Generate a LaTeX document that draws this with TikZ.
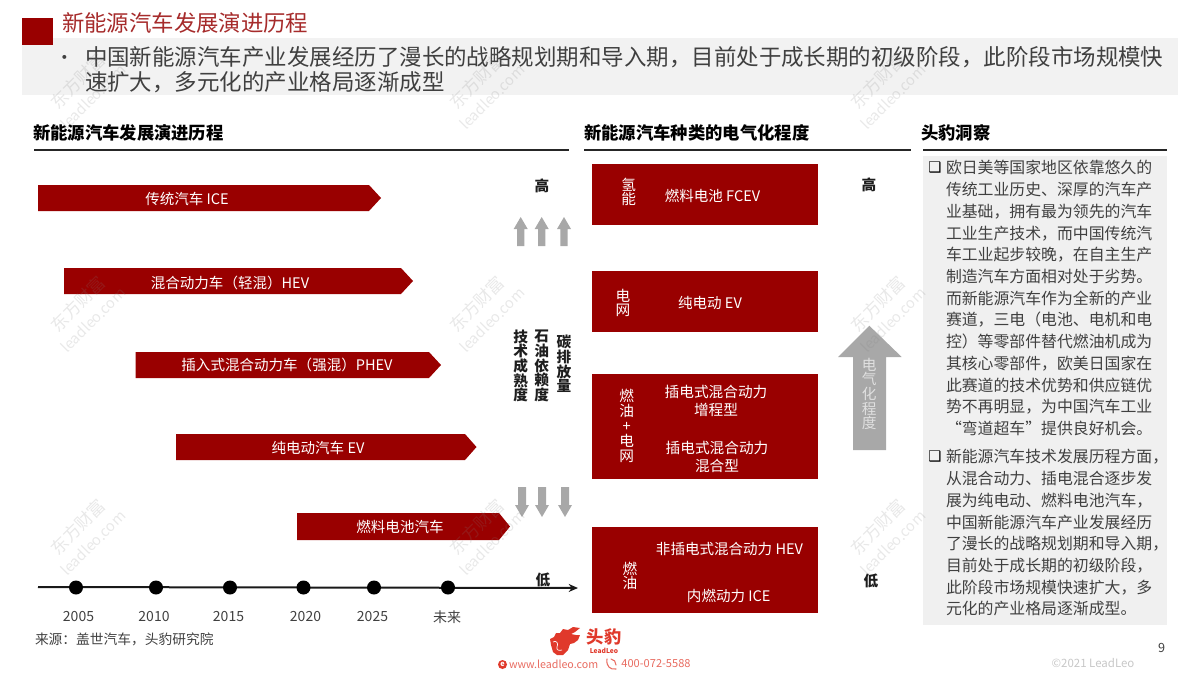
\documentclass[tikz,border=0pt]{standalone}
\usepackage{fontspec}
\setmainfont{Noto Sans CJK SC}
\newfontfamily\dejavu{DejaVu Sans}
\usetikzlibrary{arrows.meta}
\definecolor{brandred}{HTML}{990000}
\definecolor{titlered}{HTML}{A62B2B}
\definecolor{inktext}{HTML}{1E1E1E}
\definecolor{bodytext}{HTML}{404040}
\definecolor{panelgray}{HTML}{F0F0F0}
\definecolor{arrowgray}{HTML}{A8A8A8}
\definecolor{logored}{HTML}{E0392B}
\newcommand{\fsz}[2]{\fontsize{#1}{#2}\selectfont}
\newcommand{\ribbon}[5]{% x0, tipstart, x1, ytop, ybot
  \fill[brandred] (#1,#4) -- (#2,#4) -- (#3,{(#4+#5)/2}) -- (#2,#5) -- (#1,#5) -- cycle;}
\newcommand{\watermark}[2]{%
  \begin{scope}[shift={(#1,#2)}]
    \node[wmark,font=\fsz{13}{13}] (wm#1a#2) at (0,0) {东方财富};
    \node[wmark,font=\fsz{11}{11}] (wm#1b#2) at (15,16) {leadleo.com};
  \end{scope}}
\tikzset{
  txt/.style={inner sep=0pt,outer sep=0pt},
  wmark/.style={txt,rotate=45,text=gray,opacity=.18},
  whitetxt/.style={txt,text=white,font=\fsz{10.9}{14}},
  vert/.style={txt,align=center,font=\fsz{11}{11}},
  headtxt/.style={txt,anchor=west,text=black,font=\fsz{13}{15}\bfseries},
  headline/.style={line width=1pt,black!85},
  ptxt/.style={txt,anchor=north west,align=left,text=bodytext,font=\fsz{11.9}{16.28}},
  bul/.style={txt,text=black,font=\fsz{11}{11}\dejavu},
  redbox/.style={fill=brandred,draw=none},
  thinup/.style={fill=arrowgray,draw=none},
  yearlbl/.style={txt,text=bodytext,font=\fsz{10.5}{12}},
  lvl/.style={txt,text=inktext,font=\fsz{11}{12}\bfseries},
}
\begin{document}
\begin{tikzpicture}[x=0.75pt,y=-0.75pt]
\useasboundingbox (0,0) rectangle (1200,675);
% header
\fill[panelgray!85!white] (22,38) rectangle (1178,95);
\fill[brandred] (22,18) rectangle (53,45);
\node[txt,anchor=west,text=titlered,font=\fsz{16.8}{18}] (title) at (62,23) {新能源汽车发展演进历程};
\node[txt,text=bodytext,font=\fsz{14}{14}] (dotb) at (65,60) {•};
\node[txt,anchor=west,text=bodytext,font=\fsz{16.85}{18}] (l1) at (85,57) {中国新能源汽车产业发展经历了漫长的战略规划期和导入期，目前处于成长期的初级阶段，此阶段市场规模快};
\node[txt,anchor=west,text=bodytext,font=\fsz{16.85}{18}] (l2) at (85,82) {速扩大，多元化的产业格局逐渐成型};
% section heads
\node[headtxt] (h1) at (33,133) {新能源汽车发展演进历程};
\node[headtxt] (h2) at (584,133) {新能源汽车种类的电气化程度};
\node[headtxt] (h3) at (921,133) {头豹洞察};
\draw[headline] (34,150) -- (569,150);
\draw[headline] (584,150) -- (911,150);
\draw[headline] (923,150) -- (1167,150);
% ribbons
\ribbon{38}{369}{381}{185}{211}
\ribbon{64}{401}{413}{268}{294}
\ribbon{135.5}{429}{441}{352}{378}
\ribbon{176}{465}{476.5}{434}{460}
\ribbon{297}{499}{510}{513}{540}
\node[whitetxt] (r1) at (187,199) {传统汽车 ICE};
\node[whitetxt] (r2) at (230,283) {混合动力车（轻混）HEV};
\node[whitetxt] (r3) at (287,365) {插入式混合动力车（强混）PHEV};
\node[whitetxt] (r4) at (318,448) {纯电动汽车 EV};
\node[whitetxt] (r5) at (400,527) {燃料电池汽车};
% timeline
\coordinate (ts) at (38,587);
\coordinate (te) at (578,588);
\draw[line width=1.5pt,black!90,-{Stealth[length=7pt,width=6pt]}] (ts) -- (te);
\foreach \n/\x/\lx/\lab in {a/76/78.5/2005,b/156/154/2010,c/230/228.5/2015,d/303.5/305.5/2020,e/374/372.5/2025,f/448/447/未来}{
  \fill[black] (\x,587.5) circle (7);
  \node[yearlbl] (y\n) at (\lx,617) {\lab};
}
\node[txt,anchor=west,text=bodytext,font=\fsz{10.3}{12}] (src) at (35,639) {来源：盖世汽车，头豹研究院};
% levels
\node[lvl] (hi1) at (542,186) {高};
\node[lvl] (lo1) at (543,580) {低};
\node[lvl] (hi2) at (869,185) {高};
\node[lvl] (lo2) at (871,580.5) {低};
% small arrows
\foreach \x in {520.7,541.7,564}{
  \fill[thinup] (\x,217) -- (\x+7,229) -- (\x+3.7,229) -- (\x+3.7,246) -- (\x-3.7,246) -- (\x-3.7,229) -- (\x-7,229) -- cycle;
}
\foreach \x in {522,542,565}{
  \fill[thinup] (\x,517) -- (\x+7,505) -- (\x+4,505) -- (\x+4,487) -- (\x-4,487) -- (\x-4,505) -- (\x-7,505) -- cycle;
}
\node[vert,text=inktext,font=\fsz{11}{11}\bfseries] (v1) at (520.7,366) {技\\术\\成\\熟\\度};
\node[vert,text=inktext,font=\fsz{11}{11}\bfseries] (v2) at (541.7,366) {石\\油\\依\\赖\\度};
\node[vert,text=inktext,font=\fsz{11}{11}\bfseries] (v3) at (564,364) {碳\\排\\放\\量};
% boxes
\fill[redbox] (592.3,164) rectangle (817.7,225);
\fill[redbox] (592.3,270.7) rectangle (817.7,331.7);
\fill[redbox] (592.3,374) rectangle (817.7,479);
\fill[redbox] (592.3,527) rectangle (817.7,613);
\node[vert,text=white] (b1a) at (628.7,192) {氢\\能};
\node[whitetxt] (b1b) at (712.5,196) {燃料电池 FCEV};
\node[vert,text=white] (b2a) at (623,303) {电\\网};
\node[whitetxt] (b2b) at (710,302.7) {纯电动 EV};
\node[vert,text=white,font=\fsz{11}{11.2}] (b3a) at (626.7,426) {燃\\油\\+\\电\\网};
\node[whitetxt,align=center,font=\fsz{11}{13.7}] (b3b) at (716,401) {插电式混合动力\\增程型};
\node[whitetxt,align=center,font=\fsz{11}{13.7}] (b3c) at (717,457) {插电式混合动力\\混合型};
\node[vert,text=white] (b4a) at (630,576) {燃\\油};
\node[whitetxt] (b4b) at (729.5,549) {非插电式混合动力 HEV};
\node[whitetxt] (b4c) at (728.7,595.7) {内燃动力 ICE};
% big arrow
\fill[arrowgray] (869.3,325.7) -- (901.7,357) -- (886,357) -- (886,450) -- (853,450) -- (853,357) -- (838,357) -- cycle;
\node[vert,text=white!88!black] (v4) at (869.3,394) {电\\气\\化\\程\\度};
% insight panel
\fill[panelgray] (922.7,156) rectangle (1166.7,625);
\node[bul] (bu1) at (935,168) {❑};
\node[ptxt] (p1) at (946,160.5) {欧日美等国家地区依靠悠久的\\传统工业历史、深厚的汽车产\\业基础，拥有最为领先的汽车\\工业生产技术，而中国传统汽\\车工业起步较晚，在自主生产\\制造汽车方面相对处于劣势。\\而新能源汽车作为全新的产业\\赛道，三电（电池、电机和电\\控）等零部件替代燃油机成为\\其核心零部件，欧美日国家在\\此赛道的技术优势和供应链优\\势不再明显，为中国汽车工业\\“弯道超车”提供良好机会。};
\node[bul] (bu2) at (935,457) {❑};
\node[ptxt] (p2) at (946,449.5) {新能源汽车技术发展历程方面，\\从混合动力、插电混合逐步发\\展为纯电动、燃料电池汽车，\\中国新能源汽车产业发展经历\\了漫长的战略规划期和导入期，\\目前处于成长期的初级阶段，\\此阶段市场规模快速扩大，多\\元化的产业格局逐渐成型。};
% footer
\node[txt,text=bodytext,font=\fsz{9.5}{11}] (pg) at (1161.7,648) {9};
\node[txt,text=black!22,font=\fsz{8.6}{10}] (copy) at (1093,663) {©2021 LeadLeo};
% logo
\fill[logored] (551,645) -- (550,639) -- (554,637) -- (556,633) -- (560,633) -- (563,629) -- (568,630) -- (573,627) -- (580,628) -- (575,632) -- (571,634) -- (576,635) -- (580,635) -- (578,640) -- (574,643) -- (570,644) -- (568,650) -- (563,655) -- (557,655) -- (553,652) -- cycle;
\draw[white,line width=.5pt] (553,642) .. controls (556,640) and (559,643) .. (557,647) .. controls (556,650) and (559,651) .. (562,650);
\node[txt,text=logored,font=\fsz{13}{14}\bfseries] (lg1) at (604,636.5) {头豹};
\node[txt,text=logored,font=\fsz{5}{6}\bfseries\itshape] (lg2) at (604,650.5) {LeadLeo};
\fill[logored] (502.5,664.5) circle (4.5);
\node[txt,text=white,font=\fsz{5.5}{6}\bfseries] (lg3) at (502.5,664) {e};
\node[txt,anchor=west,text=logored!75!white,font=\fsz{8}{10}] (web) at (509,664) {www.leadleo.com};
\draw[logored!75!white,line width=.8pt,line cap=round] (607,659) .. controls (606,666) and (610,670) .. (616,669);
\draw[logored!75!white,line width=.8pt,line cap=round] (611,659) .. controls (614,659) and (616,662) .. (616,665);
\node[txt,text=logored!75!white,font=\fsz{8.3}{10}] (tel) at (656,664) {400-072-5588};
% watermarks
\foreach \wx in {78,477,878}{
  \foreach \wy in {81,304,527}{
    \watermark{\wx}{\wy}
  }
}
\end{tikzpicture}
\end{document}
